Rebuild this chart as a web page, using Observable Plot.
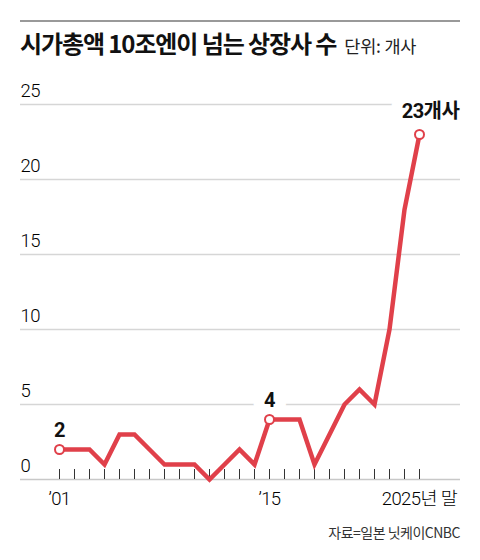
<!DOCTYPE html>
<html>
<head>
<meta charset="utf-8">
<script src="https://cdn.jsdelivr.net/npm/d3@7"></script>
<script src="https://cdn.jsdelivr.net/npm/@observablehq/plot@0.6"></script>
<style>
  body { margin: 0; background: #fff; }
  #wrap { position: relative; width: 480px; height: 560px; overflow: hidden; font-family: "Noto Sans CJK KR", sans-serif; }
  #rule { position: absolute; left: 20px; top: 20px; width: 440px; height: 2px; background: #999; }
  #title { position: absolute; left: 20px; top: 26px; line-height: 34px; white-space: nowrap; color: #111; }
  #title .main { font-size: 24px; font-weight: 700; letter-spacing: -1.1px; }
  #title .unit { font-size: 17.5px; font-weight: 400; margin-left: 8px; color: #222; letter-spacing: -0.2px; }
  #chart { position: absolute; left: 0; top: 60px; }
  #chart svg text { letter-spacing: -0.6px; }
  #source { position: absolute; right: 20px; top: 522px; font-size: 14px; color: #333; letter-spacing: -0.5px; white-space: nowrap; }
</style>
</head>
<body>
<div id="wrap">
  <div id="rule"></div>
  <div id="title"><span class="main">시가총액 10조엔이 넘는 상장사 수</span><span class="unit">단위: 개사</span></div>
  <div id="chart"></div>
  <div id="source">자료=일본 닛케이CNBC</div>
</div>
<script>
const years = [2001,2002,2003,2004,2005,2006,2007,2008,2009,2010,2011,2012,2013,2014,2015,2016,2017,2018,2019,2020,2021,2022,2023,2024,2025];
const counts = [2,2,2,1,3,3,2,1,1,1,0,1,2,1,4,4,4,1,3,5,6,5,10,18,23];
const yTicks = [0,5,10,15,20,25];
const xLabelYears = [2001, 2015, 2025];
const xLabelTexts = ["\u201901", "\u201915", "2025년 말"];
const highlightYears = [2001, 2015, 2025];
const highlightTexts = ["2", "4", "23개사"];

const data = years.map((y, i) => ({year: y, value: counts[i]}));
const highlights = highlightYears.map((y, i) => ({year: y, value: counts[years.indexOf(y)], label: highlightTexts[i]}));
const smallLabels = highlights.slice(0, 2);
const lastLabel = highlights.slice(2);
const xLabels = xLabelYears.map((y, i) => ({year: y, label: xLabelTexts[i]}));

const RED = "#e0404a";
const numFont = "Roboto, 'Noto Sans CJK KR', sans-serif";

const chart = Plot.plot({
  width: 480,
  height: 460,
  marginTop: 44,
  marginBottom: 41,
  marginLeft: 20,
  marginRight: 20,
  x: {domain: [2001, 2025], range: [59, 419], axis: null},
  y: {domain: [0, 25], axis: null},
  marks: [
    Plot.ruleY(yTicks.filter(d => d > 0), {y: d => d, stroke: "#d6d6d6", strokeWidth: 1.5}),
    Plot.ruleY([0], {stroke: "#c8c8c8", strokeWidth: 1.5}),
    Plot.ruleX(years, {x: d => d, y1: 0, y2: 0, insetTop: -10, stroke: "#333", strokeWidth: 1}),
    Plot.text(yTicks, {y: d => d, text: d => String(d), frameAnchor: "left", textAnchor: "start", dy: -13, fontSize: 18.5, fontWeight: 300, fill: "#000", fontFamily: numFont}),
    Plot.text(xLabels, {x: "year", y: () => 0, text: "label", dy: 20, fontSize: 18.5, fontWeight: 300, fill: "#000", fontFamily: numFont}),
    Plot.text(smallLabels, {x: "year", y: "value", text: "label", dy: -19, fontSize: 20, fontWeight: 700, fill: "#111", stroke: "white", strokeWidth: 22, fontFamily: numFont}),
    Plot.text(lastLabel, {x: "year", y: "value", text: "label", dy: -23, dx: 11, fontSize: 20, fontWeight: 700, fill: "#111", stroke: "white", strokeWidth: 22, fontFamily: numFont}),
    Plot.line(data, {x: "year", y: "value", stroke: RED, strokeWidth: 4.5, strokeLinejoin: "miter", strokeMiterlimit: 3}),
    Plot.dot(highlights, {x: "year", y: "value", r: 4.5, fill: "white", stroke: RED, strokeWidth: 2})
  ]
});
chart.style.fontFamily = numFont;
document.getElementById("chart").appendChild(chart);
</script>
</body>
</html>
